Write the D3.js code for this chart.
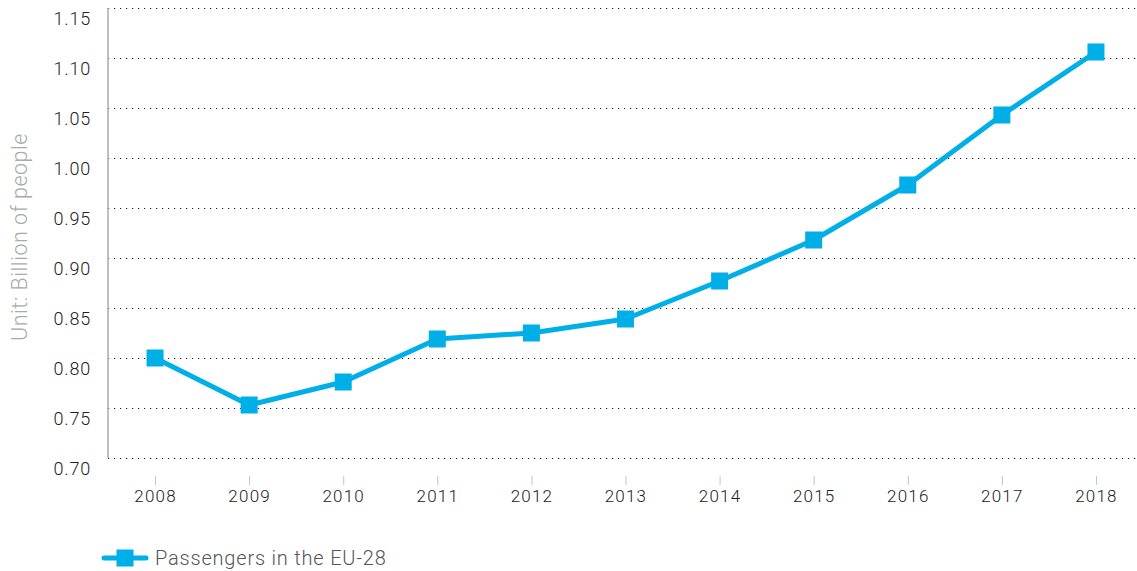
<!DOCTYPE html>
<html>
<head>
<meta charset="utf-8">
<script src="https://cdn.jsdelivr.net/npm/d3@7"></script>
<style>
  body { margin: 0; background: #fff; }
  svg { display: block; font-family: Roboto, "Liberation Sans", Arial, sans-serif; font-weight: 300; }
</style>
</head>
<body>
<svg id="chart" width="1137" height="571"></svg>
<script>
// data
var years = ["2008", "2009", "2010", "2011", "2012", "2013", "2014", "2015", "2016", "2017", "2018"];
var passengers = [0.800, 0.753, 0.776, 0.819, 0.825, 0.839, 0.877, 0.918, 0.973, 1.043, 1.106];
var yTicks = [0.70, 0.75, 0.80, 0.85, 0.90, 0.95, 1.00, 1.05, 1.10, 1.15];
var seriesName = "Passengers in the EU-28";
var yTitle = "Unit: Billion of people";

var lineColor = "#00aee8";
var fontFam = "Roboto, \"Liberation Sans\", Arial, sans-serif";
var svg = d3.select("#chart");

var plotLeft = 108, plotRight = 1143, plotTop = 8, plotBottom = 458;

var x = d3.scalePoint()
    .domain(years)
    .range([plotLeft, plotRight])
    .padding(0.5);

var y = d3.scaleLinear()
    .domain([0.70, 1.15])
    .range([plotBottom, plotTop]);

// dotted grid lines
svg.append("g")
    .selectAll("line")
    .data(yTicks)
    .enter()
    .append("line")
    .attr("x1", plotLeft)
    .attr("x2", 1137)
    .attr("y1", d => y(d) + 0.5)
    .attr("y2", d => y(d) + 0.5)
    .attr("stroke", "#222")
    .attr("stroke-width", 1.2)
    .attr("stroke-dasharray", "1.2,4.8");

// y axis line
svg.append("line")
    .attr("x1", plotLeft).attr("x2", plotLeft)
    .attr("y1", plotTop).attr("y2", plotBottom)
    .attr("stroke", "#aaa")
    .attr("stroke-width", 1.5);

// y tick labels (sit a bit below their grid line, like the original)
var yAxis = d3.axisLeft(y)
    .tickValues(yTicks)
    .tickFormat(d3.format(".2f"))
    .tickSize(0)
    .tickPadding(17);

var gy = svg.append("g")
    .attr("transform", "translate(" + plotLeft + ",0)")
    .call(yAxis);
gy.select(".domain").remove();
gy.selectAll("text")
    .attr("font-size", 18)
    .attr("letter-spacing", 0.8)
    .attr("fill", "#222")
    .attr("dy", "0.92em")
    .attr("font-weight", 300)
    .attr("font-family", fontFam);

// x axis labels with small ticks
var xAxis = d3.axisBottom(x)
    .tickSize(9)
    .tickPadding(5);

var gx = svg.append("g")
    .attr("transform", "translate(0,476)")
    .call(xAxis);
gx.select(".domain").remove();
gx.selectAll(".tick line").attr("stroke", "#c4c4c4");
gx.selectAll("text")
    .attr("font-size", 17)
    .attr("letter-spacing", 1.2)
    .attr("fill", "#222")
    .attr("font-weight", 300)
    .attr("font-family", fontFam);

// y title
svg.append("text")
    .attr("transform", "translate(27,237) rotate(-90)")
    .attr("text-anchor", "middle")
    .attr("font-size", 21.5)
    .attr("letter-spacing", 0.5)
    .attr("fill", "#aaa")
    .text(yTitle);

// line
var line = d3.line()
    .x((d, i) => x(years[i]))
    .y(d => y(d));

svg.append("path")
    .datum(passengers)
    .attr("fill", "none")
    .attr("stroke", lineColor)
    .attr("stroke-width", 5)
    .attr("stroke-linejoin", "round")
    .attr("d", line);

var sq = 17;
svg.append("g")
    .selectAll("rect")
    .data(passengers)
    .enter()
    .append("rect")
    .attr("x", (d, i) => x(years[i]) - sq / 2)
    .attr("y", d => y(d) - sq / 2)
    .attr("width", sq)
    .attr("height", sq)
    .attr("fill", lineColor);

// legend
var lg = svg.append("g").attr("transform", "translate(0,558)");
lg.append("line")
    .attr("x1", 104).attr("x2", 146)
    .attr("y1", 0).attr("y2", 0)
    .attr("stroke", lineColor)
    .attr("stroke-width", 5)
    .attr("stroke-linecap", "round");
lg.append("rect")
    .attr("x", 125 - sq / 2)
    .attr("y", -sq / 2)
    .attr("width", sq)
    .attr("height", sq)
    .attr("fill", lineColor);
lg.append("text")
    .attr("x", 155)
    .attr("y", 7)
    .attr("font-size", 20)
    .attr("letter-spacing", 0.8)
    .attr("fill", "#555")
    .text(seriesName);
</script>
</body>
</html>
